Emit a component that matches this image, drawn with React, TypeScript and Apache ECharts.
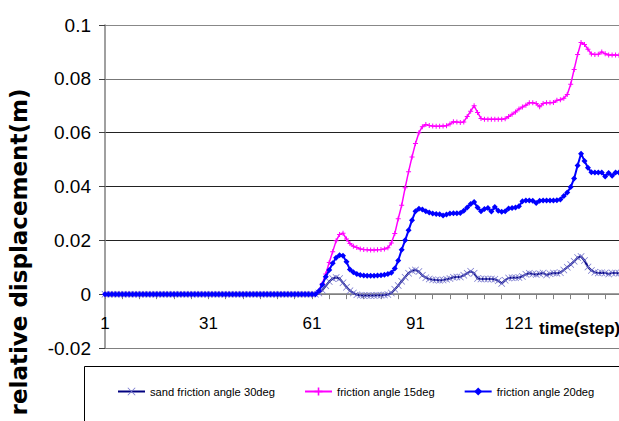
import React, { useEffect, useRef } from "react";
import * as echarts from "echarts";

// categories: time steps 1..150
const steps: string[] = Array.from({ length: 150 }, (_, i) => String(i + 1));

const yTicks = [-0.02, 0, 0.02, 0.04, 0.06, 0.08, 0.1];

const sand30: number[] = [
  0, 0, 0, 0, 0, 0, 0, 0, 0, 0,
  0, 0, 0, 0, 0, 0, 0, 0, 0, 0,
  0, 0, 0, 0, 0, 0, 0, 0, 0, 0,
  0, 0, 0, 0, 0, 0, 0, 0, 0, 0,
  0, 0, 0, 0, 0, 0, 0, 0, 0, 0,
  0, 0, 0, 0, 0, 0, 0, 0, 0, 0,
  0, 0, 0.0004, 0.0015, 0.0031, 0.0047, 0.0058, 0.0062, 0.0058, 0.0042,
  0.0026, 0.0013, 0.0004, -0.0002, -0.0004, -0.0005, -0.0005, -0.0005, -0.0005, -0.0004,
  -0.0004, -0.0003, -0.0001, 0.0004, 0.0018, 0.0032, 0.0048, 0.0063, 0.0078, 0.0087,
  0.009, 0.0084, 0.007, 0.0061, 0.0056, 0.0054, 0.0053, 0.0052, 0.0053, 0.0055,
  0.0058, 0.0063, 0.0064, 0.0064, 0.007, 0.0078, 0.0085, 0.0078, 0.0058, 0.0056,
  0.0056, 0.0056, 0.0056, 0.0055, 0.005, 0.004, 0.0052, 0.006, 0.0061, 0.0061,
  0.0062, 0.0066, 0.0074, 0.0078, 0.0075, 0.0073, 0.0076, 0.0079, 0.0071, 0.0076,
  0.0079, 0.0078, 0.008, 0.009, 0.01, 0.011, 0.0122, 0.0136, 0.014, 0.0125,
  0.0101, 0.0088, 0.0081, 0.0079, 0.008, 0.0079, 0.0075, 0.0079, 0.0079, 0.0078,
];

const friction15: number[] = [
  0, 0, 0, 0, 0, 0, 0, 0, 0, 0,
  0, 0, 0, 0, 0, 0, 0, 0, 0, 0,
  0, 0, 0, 0, 0, 0, 0, 0, 0, 0,
  0, 0, 0, 0, 0, 0, 0, 0, 0, 0,
  0, 0, 0, 0, 0, 0, 0, 0, 0, 0,
  0, 0, 0, 0, 0, 0, 0, 0, 0, 0,
  0, 0, 0.0012, 0.004, 0.0075, 0.0118, 0.0158, 0.0198, 0.0222, 0.0226,
  0.0205, 0.0188, 0.0178, 0.0173, 0.0168, 0.0166, 0.0165, 0.0164, 0.0164, 0.0165,
  0.0166, 0.0168, 0.0172, 0.019, 0.0225, 0.028, 0.033, 0.0395, 0.0455, 0.051,
  0.056, 0.06, 0.0622, 0.063, 0.0627, 0.0625, 0.0624, 0.0624, 0.0625, 0.0626,
  0.0632, 0.0641, 0.064, 0.0638, 0.064, 0.066, 0.068, 0.07, 0.0675, 0.0653,
  0.065, 0.065, 0.065, 0.065, 0.065, 0.065, 0.0652, 0.066, 0.0668, 0.0677,
  0.0688, 0.0695, 0.0702, 0.0711, 0.0711, 0.0708, 0.0696, 0.0708, 0.0711, 0.0711,
  0.0712, 0.072, 0.0722, 0.0728, 0.0742, 0.078, 0.0835, 0.089, 0.0935, 0.0928,
  0.091, 0.0892, 0.089, 0.0891, 0.09, 0.0893, 0.0889, 0.0889, 0.0889, 0.0888,
];

const friction20: number[] = [
  0, 0, 0, 0, 0, 0, 0, 0, 0, 0,
  0, 0, 0, 0, 0, 0, 0, 0, 0, 0,
  0, 0, 0, 0, 0, 0, 0, 0, 0, 0,
  0, 0, 0, 0, 0, 0, 0, 0, 0, 0,
  0, 0, 0, 0, 0, 0, 0, 0, 0, 0,
  0, 0, 0, 0, 0, 0, 0, 0, 0, 0,
  0, 0, 0.0012, 0.0035, 0.0065, 0.009, 0.0115, 0.0135, 0.0145, 0.0143,
  0.012, 0.0092, 0.0081, 0.0075, 0.0071, 0.0069, 0.0068, 0.0068, 0.0068, 0.0069,
  0.007, 0.0072, 0.0075, 0.008, 0.0095, 0.0125, 0.0165, 0.02, 0.0237, 0.0275,
  0.0308, 0.0317, 0.0315, 0.0308, 0.0303, 0.03, 0.0298, 0.0297, 0.0292, 0.0296,
  0.03, 0.0301, 0.0301, 0.0302, 0.031, 0.0322, 0.0335, 0.0342, 0.0322, 0.0308,
  0.0316, 0.032, 0.0307, 0.0324, 0.031, 0.0306, 0.0308, 0.0318, 0.032, 0.0322,
  0.0327, 0.0345, 0.0348, 0.0348, 0.0347, 0.0339, 0.0347, 0.0348, 0.0348, 0.0348,
  0.0348, 0.0349, 0.0352, 0.0365, 0.0378, 0.0398, 0.043, 0.0478, 0.0522, 0.0495,
  0.047, 0.0453, 0.0452, 0.0452, 0.0452, 0.0437, 0.045, 0.044, 0.0452, 0.0452,
];

const seriesNames = [
  "sand friction angle 30deg",
  "friction angle 15deg",
  "friction angle 20deg",
];

const FONT = "'Liberation Sans', Arial, sans-serif";

const X_SYMBOL =
  "path://M0.7,0L5,4.3L9.3,0L10,0.7L5.7,5L10,9.3L9.3,10L5,5.7L0.7,10L0,9.3L4.3,5L0,0.7Z";
const PLUS_SYMBOL = "path://M4,0H6V4H10V6H6V10H4V6H0V4H4Z";

const GRID_TOP = 25;
const GRID_HEIGHT = 323;
const Y_MIN = -0.02;
const Y_MAX = 0.1;

export default function App() {
  const ref = useRef<HTMLDivElement>(null);

  useEffect(() => {
    if (!ref.current) return;
    const chart = echarts.init(ref.current, undefined, { renderer: "svg" });
    // distance from grid bottom up to the value 0, so the category axis sits on zero
    const zeroOffset = -(GRID_HEIGHT * (0 - Y_MIN)) / (Y_MAX - Y_MIN);
    const option: any = {
      animation: false,
      backgroundColor: "#ffffff",
      grid: { left: 105, top: GRID_TOP, width: 515.5, height: GRID_HEIGHT, containLabel: false },
      legend: {
        left: 112,
        top: 381,
        itemWidth: 27,
        itemHeight: 10,
        itemGap: 29,
        selectedMode: false,
        textStyle: { fontFamily: FONT, fontSize: 11.2, color: "#000" },
        data: seriesNames,
      },
      xAxis: {
        type: "category",
        data: steps,
        boundaryGap: false,
        position: "bottom",
        offset: zeroOffset,
        axisLine: { onZero: false, lineStyle: { color: "#808080", width: 1.5 } },
        axisTick: { show: true, interval: 4, length: 5, inside: false, lineStyle: { color: "#808080" } },
        axisLabel: { interval: 29, fontFamily: FONT, fontSize: 17, color: "#000", margin: 21 },
        splitLine: { show: false },
      },
      yAxis: {
        type: "value",
        min: Y_MIN,
        max: Y_MAX,
        interval: 0.02,
        axisLine: { show: true, lineStyle: { color: "#808080", width: 1.5 } },
        axisTick: { show: true, length: 6, inside: false, lineStyle: { color: "#404040" } },
        axisLabel: {
          fontFamily: FONT,
          fontSize: 19,
          color: "#000",
          margin: 14,
          formatter: (v: number) => {
            const t = yTicks.find((k) => Math.abs(k - v) < 1e-9);
            return String(t !== undefined ? t : v);
          },
        },
        splitLine: {
          show: true,
          lineStyle: { color: ["#808080", "#808080", "#222", "#222", "#222", "#777", "#888"], width: 1 },
        },
      },
      series: [
        {
          name: seriesNames[0],
          type: "line",
          data: sand30,
          showAllSymbol: true,
          symbol: X_SYMBOL,
          symbolSize: 7,
          lineStyle: { color: "#000080", width: 2 },
          itemStyle: { color: "#7474cc" },
          z: 2,
        },
        {
          name: seriesNames[1],
          type: "line",
          data: friction15,
          showAllSymbol: true,
          symbol: PLUS_SYMBOL,
          symbolSize: 5,
          lineStyle: { color: "#ff00ff", width: 1.5 },
          itemStyle: { color: "#ff00ff" },
          z: 3,
        },
        {
          name: seriesNames[2],
          type: "line",
          data: friction20,
          showAllSymbol: true,
          symbol: "diamond",
          symbolSize: 6,
          lineStyle: { color: "#0000ff", width: 2 },
          itemStyle: { color: "#0000ff" },
          z: 4,
        },
      ],
      graphic: [
        {
          type: "text",
          x: 19,
          y: 252,
          rotation: Math.PI / 2,
          style: {
            text: "relative displacement(m)",
            fontFamily: "'DejaVu Sans', Verdana, sans-serif",
            fontWeight: "bold",
            fontSize: 23,
            fill: "#000",
            textAlign: "center",
            textVerticalAlign: "middle",
          },
        },
        {
          type: "text",
          x: 539,
          y: 328,
          style: {
            text: "time(step)",
            fontFamily: FONT,
            fontWeight: "bold",
            fontSize: 17,
            fill: "#000",
            textAlign: "left",
            textVerticalAlign: "middle",
          },
        },
        {
          type: "rect",
          shape: { x: 84.5, y: 366.5, width: 600, height: 100 },
          style: { fill: "none", stroke: "#000", lineWidth: 1 },
          z: -1,
        },
      ],
    };
    chart.setOption(option);
    return () => chart.dispose();
  }, []);

  return (
    <div
      ref={ref}
      style={{ position: "fixed", left: 0, top: 0, width: 619, height: 421, background: "#fff" }}
    />
  );
}
